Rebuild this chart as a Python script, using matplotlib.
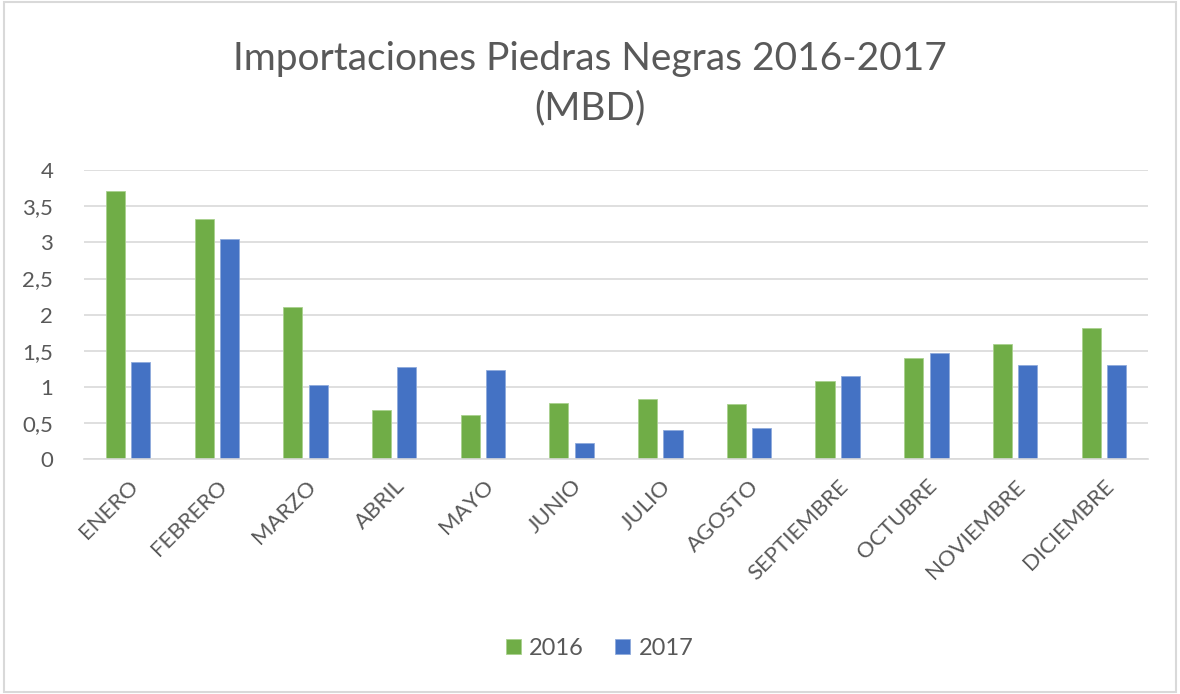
import numpy as np
import matplotlib.pyplot as plt
from matplotlib.patches import Rectangle

plt.rcParams['font.family'] = ['Lato', 'DejaVu Sans']

meses = ['ENERO', 'FEBRERO', 'MARZO', 'ABRIL', 'MAYO', 'JUNIO', 'JULIO',
         'AGOSTO', 'SEPTIEMBRE', 'OCTUBRE', 'NOVIEMBRE', 'DICIEMBRE']
v2016 = [3.71, 3.33, 2.10, 0.68, 0.62, 0.78, 0.84, 0.76, 1.09, 1.40, 1.59, 1.81]
v2017 = [1.34, 3.04, 1.03, 1.28, 1.24, 0.23, 0.40, 0.44, 1.15, 1.47, 1.30, 1.30]
yticks = [0, 0.5, 1, 1.5, 2, 2.5, 3, 3.5, 4]
ytick_labels = ['0', '0,5', '1', '1,5', '2', '2,5', '3', '3,5', '4']

verde = '#70AD47'
azul = '#4472C4'
gris = '#595959'

fig = plt.figure(figsize=(11.8, 6.94), dpi=100)
fig.patches.append(Rectangle((0.003, 0.003), 0.994, 0.994, transform=fig.transFigure,
                             fill=False, edgecolor='#D9D9D9', linewidth=1.5))
ax = fig.add_axes([0.071, 0.338, 0.902, 0.417])

x = np.arange(len(meses))
w = 0.215
ax.bar(x - 0.143, v2016, w, color=verde, label='2016', edgecolor='#A9D18E', linewidth=0.6)
ax.bar(x + 0.143, v2017, w, color=azul, label='2017', edgecolor='#8FAADC', linewidth=0.6)

ax.set_xlim(-0.5, len(meses) - 0.5)
ax.set_ylim(0, 4)
ax.set_yticks(yticks)
ax.set_yticklabels(ytick_labels)
ax.yaxis.grid(True, color='#D9D9D9', linewidth=1.2)
ax.set_axisbelow(True)
for s in ['top', 'right', 'left']:
    ax.spines[s].set_visible(False)
ax.spines['bottom'].set_color('#D9D9D9')
ax.spines['bottom'].set_linewidth(1.2)
ax.tick_params(axis='both', length=0, colors=gris, labelsize=16)
ax.tick_params(axis='y', pad=22)
ax.set_xticks(x)
ax.set_xticklabels(meses, rotation=45, ha='right', rotation_mode='anchor')
ax.tick_params(axis='x', pad=12)

fig.text(0.5, 0.88, 'Importaciones Piedras Negras 2016-2017\n(MBD)', ha='center', va='center',
         fontsize=28, color=gris, linespacing=1.45)

fig.legend(loc='center', bbox_to_anchor=(0.508, 0.066), ncol=2, frameon=False, fontsize=17,
           handlelength=0.65, handleheight=0.65, handletextpad=0.35, columnspacing=1.3,
           labelcolor=gris)

fig.savefig('out.png', dpi=100)
